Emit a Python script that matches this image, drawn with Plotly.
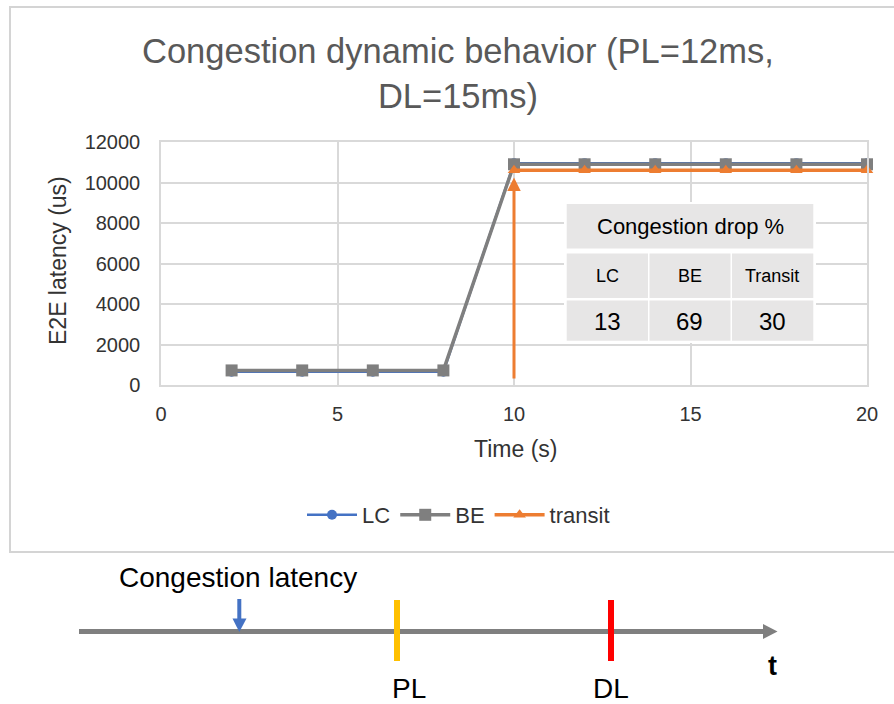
import plotly.graph_objects as go

# ---- data -------------------------------------------------------------
TIME_S = [2, 4, 6, 8, 10, 12, 14, 16, 18, 20]
LC_US = [660, 660, 660, 660, 10950, 10950, 10950, 10950, 10950, 10950]
BE_US = [720, 720, 720, 720, 10900, 10900, 10900, 10900, 10900, 10900]
TRANSIT_TIME_S = [10, 12, 14, 16, 18, 20]
TRANSIT_US = [10600, 10600, 10600, 10600, 10600, 10600]

DROP_CLASSES = ["LC", "BE", "Transit"]
DROP_PCT = [13, 69, 30]

X_TICKS = [0, 5, 10, 15, 20]
Y_TICKS = [0, 2000, 4000, 6000, 8000, 10000, 12000]

# ---- styling ------------------------------------------------------------
FONT = "Liberation Sans, Arial, Helvetica, sans-serif"
BLUE = "#4472C4"
GRAY = "#7F7F7F"
ORANGE = "#ED7D31"
GRID = "#D9D9D9"
CELL = "#E7E6E6"
TXT = "#333333"
W, H = 894, 704
PL, PR, PT, PB = 161, 867, 142, 385  # plot area in pixels


def fx(px):
    """pixel x -> paper x"""
    return (px - PL) / (PR - PL)


def fy(py):
    """pixel y -> paper y"""
    return (PB - py) / (PB - PT)


def label(text, px, py, size, color="black", xanchor="center", **kw):
    return dict(x=fx(px), y=fy(py), xref="paper", yref="paper",
                xanchor=xanchor, yanchor="middle", text=text, showarrow=False,
                font=dict(family=FONT, size=size, color=color), **kw)


fig = go.Figure()
fig.add_trace(go.Scatter(
    x=TIME_S, y=LC_US, name="LC", mode="lines+markers",
    line=dict(color=BLUE, width=2.5),
    marker=dict(symbol="circle", size=10, color=BLUE),
    cliponaxis=False))
fig.add_trace(go.Scatter(
    x=TIME_S, y=BE_US, name="BE", mode="lines+markers",
    line=dict(color=GRAY, width=3.5),
    marker=dict(symbol="square", size=12, color=GRAY),
    cliponaxis=False))
fig.add_trace(go.Scatter(
    x=TRANSIT_TIME_S, y=TRANSIT_US, name="transit", mode="lines+markers",
    line=dict(color=ORANGE, width=3.5),
    marker=dict(symbol="triangle-up", size=11, color=ORANGE),
    cliponaxis=False))

shapes = []
annotations = []

# outer chart frame
shapes.append(dict(type="rect", xref="paper", yref="paper",
                   x0=fx(10), x1=fx(910), y0=fy(552), y1=fy(7),
                   line=dict(color="#D4D4D4", width=2), layer="below"))

# chart title
annotations.append(label("Congestion dynamic behavior (PL=12ms,<br>DL=15ms)",
                         458, 73, 34.5, color="#595959"))

# congestion onset arrow rising from the time axis
annotations.append(dict(
    x=TRANSIT_TIME_S[0], y=TRANSIT_US[0] - 350, xref="x", yref="y",
    ax=TRANSIT_TIME_S[0], ay=250, axref="x", ayref="y",
    text="", showarrow=True, arrowhead=2, arrowsize=0.9, arrowwidth=3,
    arrowcolor=ORANGE))

# drop-percentage table
tbl_x = [566.7, 648.5, 731.0, 813.3]
shapes.append(dict(type="rect", xref="paper", yref="paper",
                   x0=fx(564), x1=fx(816), y0=fy(343), y1=fy(202),
                   fillcolor="white", line=dict(width=0), layer="above"))
shapes.append(dict(type="rect", xref="paper", yref="paper",
                   x0=fx(tbl_x[0]), x1=fx(tbl_x[3]), y0=fy(248.5), y1=fy(204),
                   fillcolor=CELL, line=dict(width=0), layer="above"))
rows = [(253.5, 298), (300.5, 340.7)]
for (r0, r1) in rows:
    for c in range(3):
        shapes.append(dict(type="rect", xref="paper", yref="paper",
                           x0=fx(tbl_x[c] + (1 if c else 0)),
                           x1=fx(tbl_x[c + 1] - (0.5 if c < 2 else 0)),
                           y0=fy(r1), y1=fy(r0),
                           fillcolor=CELL, line=dict(width=0), layer="above"))
annotations.append(label("Congestion drop %", (tbl_x[0] + tbl_x[3]) / 2, 226, 22))
for c in range(3):
    cx = (tbl_x[c] + tbl_x[c + 1]) / 2
    annotations.append(label(DROP_CLASSES[c], cx, 275.5, 18))
    annotations.append(label(str(DROP_PCT[c]), cx, 321, 24))

# axis titles
annotations.append(label("E2E latency (us)", 58, 261, 23, color=TXT, textangle=-90))
annotations.append(label("Time (s)", 515, 449, 23, color=TXT))

# ---- timeline sketch below the chart ----------------------------------
shapes.append(dict(type="line", xref="paper", yref="paper",
                   x0=fx(79), x1=fx(765), y0=fy(631.5), y1=fy(631.5),
                   line=dict(color=GRAY, width=5)))
shapes.append(dict(type="path", xref="paper", yref="paper",
                   path=f"M {fx(763)},{fy(624)} L {fx(777.5)},{fy(631.5)} L {fx(763)},{fy(639)} Z",
                   fillcolor=GRAY, line=dict(width=0)))
# congestion latency marker
shapes.append(dict(type="line", xref="paper", yref="paper",
                   x0=fx(239.3), x1=fx(239.3), y0=fy(599), y1=fy(620),
                   line=dict(color=BLUE, width=4)))
shapes.append(dict(type="path", xref="paper", yref="paper",
                   path=f"M {fx(232.5)},{fy(618.5)} L {fx(246.5)},{fy(618.5)} L {fx(239.3)},{fy(632)} Z",
                   fillcolor=BLUE, line=dict(width=0)))
# PL / DL ticks
shapes.append(dict(type="line", xref="paper", yref="paper",
                   x0=fx(397), x1=fx(397), y0=fy(600), y1=fy(661),
                   line=dict(color="#FFC000", width=6)))
shapes.append(dict(type="line", xref="paper", yref="paper",
                   x0=fx(611), x1=fx(611), y0=fy(600), y1=fy(661),
                   line=dict(color="#FF0000", width=6)))

annotations.append(label("Congestion latency", 117, 577, 28, xanchor="left"))
annotations.append(label("PL", 409, 688, 28))
annotations.append(label("DL", 611, 688, 28))
annotations.append(label("<b>t</b>", 772, 666, 27))

fig.update_layout(
    width=W, height=H, autosize=False,
    margin=dict(l=PL, r=W - PR, t=PT, b=H - PB, pad=0),
    paper_bgcolor="white", plot_bgcolor="white",
    font=dict(family=FONT, color=TXT),
    showlegend=True,
    legend=dict(orientation="h", x=fx(302), xanchor="left",
                y=fy(515), yanchor="middle",
                font=dict(family=FONT, size=22, color=TXT),
                itemwidth=50, tracegroupgap=0, bgcolor="rgba(0,0,0,0)"),
    shapes=shapes, annotations=annotations,
)
fig.update_xaxes(range=[0, 20], tickvals=X_TICKS, ticktext=[str(v) for v in X_TICKS],
                 showgrid=True, gridcolor=GRID, gridwidth=1.5,
                 zeroline=False, showline=True, mirror=True, linecolor=GRID, linewidth=1.5,
                 ticks="", ticklabelstandoff=10,
                 tickfont=dict(family=FONT, size=20, color=TXT), fixedrange=True)
fig.update_yaxes(range=[0, 12000], tickvals=Y_TICKS, ticktext=[str(v) for v in Y_TICKS],
                 showgrid=True, gridcolor=GRID, gridwidth=1.5,
                 zeroline=False, showline=True, mirror=True, linecolor=GRID, linewidth=1.5,
                 ticks="", ticklabelstandoff=15,
                 tickfont=dict(family=FONT, size=20, color=TXT), fixedrange=True)

fig.write_html("out.html")
